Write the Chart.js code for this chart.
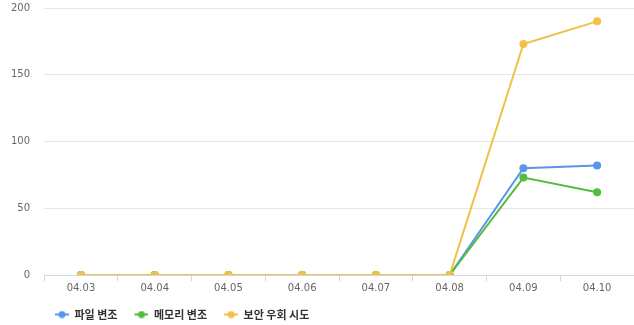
<!DOCTYPE html>
<html>
<head>
<meta charset="utf-8">
<script src="https://cdn.jsdelivr.net/npm/chart.js@4"></script>
<style>
  html, body { margin: 0; padding: 0; background: #fff; }
  #wrap { width: 634px; height: 325px; }
</style>
</head>
<body>
<div id="wrap"><canvas id="c"></canvas></div>
<script>
const dates = ['04.03', '04.04', '04.05', '04.06', '04.07', '04.08', '04.09', '04.10'];
const fileTamper = [0, 0, 0, 0, 0, 0, 80, 82];
const memoryTamper = [0, 0, 0, 0, 0, 0, 73, 62];
const bypassAttempt = [0, 0, 0, 0, 0, 0, 173, 190];
const seriesNames = ['파일 변조', '메모리 변조', '보안 우회 시도'];
const yTicks = [0, 50, 100, 150, 200];

const colors = ['#5a95ea', '#52bd3e', '#f1c045'];
const axisFont = '"DejaVu Sans", sans-serif';
const legendFont = '"Noto Sans CJK KR", "Noto Sans", sans-serif';

// Legend marker: short line with a dot, with blank space on its left
// so that neighbouring legend items sit further apart
const ICON_GAP = 3;
function legendIcon(color) {
  const cv = document.createElement('canvas');
  cv.width = 14 + ICON_GAP; cv.height = 8;
  const ctx = cv.getContext('2d');
  ctx.strokeStyle = color;
  ctx.lineWidth = 2;
  ctx.beginPath(); ctx.moveTo(ICON_GAP, 4); ctx.lineTo(ICON_GAP + 14, 4); ctx.stroke();
  ctx.fillStyle = color;
  ctx.beginPath(); ctx.arc(ICON_GAP + 7, 4, 3.5, 0, Math.PI * 2); ctx.fill();
  return cv;
}

function makeSet(label, data, color, order) {
  return {
    label, data, order,
    borderColor: color,
    backgroundColor: color,
    borderWidth: 2,
    pointRadius: 4,
    pointHoverRadius: 5,
    pointBorderWidth: 0,
    tension: 0,
    fill: false
  };
}

// Indent the legend row from the left edge
const legendIndent = {
  id: 'legendIndent',
  afterLayout(chart) {
    if (chart.legend) chart.legend.left += 29;
  }
};

new Chart(document.getElementById('c'), {
  type: 'line',
  data: {
    labels: dates,
    datasets: [
      makeSet(seriesNames[0], fileTamper, colors[0], 2),
      makeSet(seriesNames[1], memoryTamper, colors[1], 1),
      makeSet(seriesNames[2], bypassAttempt, colors[2], 0)
    ]
  },
  plugins: [legendIndent],
  options: {
    responsive: true,
    maintainAspectRatio: false,
    animation: false,
    layout: { autoPadding: false, padding: { left: 9, right: 0, top: 0, bottom: -5 } },
    plugins: {
      tooltip: { enabled: false },
      legend: {
        position: 'bottom',
        align: 'start',
        labels: {
          usePointStyle: true,
          pointStyleWidth: 14 + ICON_GAP,
          font: { family: legendFont, size: 11, weight: 'bold' },
          color: '#333',
          padding: 14,
          generateLabels: (chart) => chart.data.datasets.map((ds, i) => ({
            text: ds.label,
            fillStyle: ds.borderColor,
            strokeStyle: ds.borderColor,
            lineWidth: 0,
            pointStyle: legendIcon(ds.borderColor),
            datasetIndex: i,
            hidden: !chart.isDatasetVisible(i),
            fontColor: '#333'
          }))
        }
      }
    },
    scales: {
      x: {
        offset: true,
        grid: {
          display: true,
          drawOnChartArea: false,
          drawTicks: true,
          tickLength: 6,
          offset: true,
          color: '#ccd6eb'
        },
        border: { display: true, color: '#ccd6eb' },
        ticks: {
          color: '#666',
          font: { family: axisFont, size: 10 },
          padding: 1
        }
      },
      y: {
        min: 0,
        max: 200,
        afterBuildTicks: (axis) => { axis.ticks = yTicks.map(v => ({ value: v })); },
        grid: { color: '#e6e6e6', drawTicks: true, tickLength: 12, tickColor: 'rgba(0,0,0,0)' },
        border: { display: false },
        ticks: {
          color: '#666',
          font: { family: axisFont, size: 10 },
          padding: 2
        }
      }
    }
  }
});
</script>
</body>
</html>
